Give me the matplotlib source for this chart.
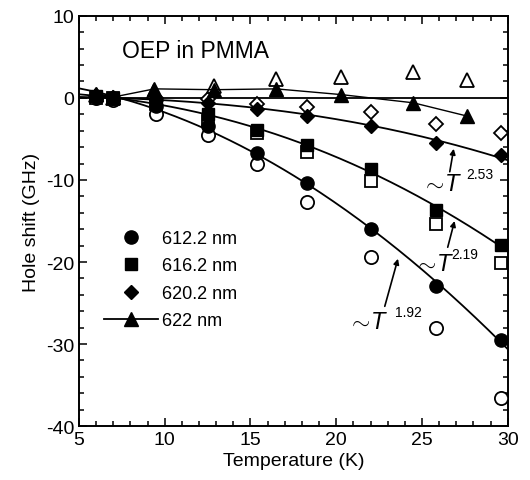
import numpy as np
import matplotlib
matplotlib.use("Agg")
import matplotlib.pyplot as plt
from matplotlib.lines import Line2D
from matplotlib.ticker import MultipleLocator

plt.rcParams['font.family'] = ['Liberation Sans', 'DejaVu Sans']
plt.rcParams['mathtext.fontset'] = 'custom'
plt.rcParams['mathtext.it'] = 'Liberation Sans:italic'
plt.rcParams['mathtext.rm'] = 'Liberation Sans'
plt.rcParams['axes.unicode_minus'] = False

# temperatures (K)
T_main = [6.0, 7.0, 9.5, 12.5, 15.4, 18.3, 22.0, 25.8, 29.6]
T_tri = [6.0, 7.0, 9.4, 12.9, 16.5, 20.3, 24.5, 27.6]

# hole shift (GHz), filled and open symbols
circ_fill = [0.1, 0.0, -1.0, -3.4, -6.7, -10.4, -16.0, -22.9, -29.5]
circ_open = [0.0, -0.2, -2.0, -4.5, -8.0, -12.7, -19.4, -28.0, -36.6]
sq_fill = [0.2, 0.0, -0.6, -2.0, -3.9, -5.8, -8.7, -13.7, -17.9]
sq_open = [0.0, 0.0, -0.8, -2.8, -4.3, -6.6, -10.1, -15.4, -20.1]
dia_fill = [0.3, 0.0, -0.2, -0.6, -1.3, -2.2, -3.4, -5.5, -7.0]
dia_open = [0.2, 0.0, 0.0, -0.1, -0.7, -1.1, -1.7, -3.2, -4.3]
tri_fill = [0.5, 0.1, 1.1, 1.0, 1.1, 0.4, -0.6, -2.2]
tri_open = [0.3, 0.0, 0.8, 1.4, 2.3, 2.6, 3.1, 2.2]

labels = ["612.2 nm", "616.2 nm", "620.2 nm", "622 nm"]
exponents = [1.92, 2.19, 2.53]

fig = plt.figure(figsize=(5.3, 4.81), dpi=100)
ax = fig.add_axes([0.149, 0.112, 0.809, 0.853])

ax.axhline(0, color='k', lw=1.3, zorder=1)

ms = 9.5
# power-law fits  y = c - b*T^n through the filled points
Tf = np.linspace(5, 30, 200)
for ys, n in zip([circ_fill, sq_fill, dia_fill], exponents):
    p = np.polyfit(np.array(T_main) ** n, ys, 1)
    ax.plot(Tf, np.polyval(p, Tf ** n), color='k', lw=1.3, zorder=2)

ax.plot(T_main, circ_open, 'o', ms=ms, mfc='white', mec='k', mew=1.3, zorder=3)
ax.plot(T_main, sq_open, 's', ms=ms - 1, mfc='white', mec='k', mew=1.3, zorder=3)
ax.plot(T_main, dia_open, 'D', ms=ms - 2, mfc='white', mec='k', mew=1.3, zorder=3)
ax.plot(T_tri, tri_open, '^', ms=ms + 1, mfc='white', mec='k', mew=1.3, zorder=3)

ax.plot(T_tri, tri_fill, '-^', color='k', lw=1.0, ms=ms, zorder=4)
ax.plot(T_main, circ_fill, 'o', color='k', ms=ms, zorder=4)
ax.plot(T_main, sq_fill, 's', color='k', ms=ms - 1, zorder=4)
ax.plot(T_main, dia_fill, 'D', color='k', ms=ms - 2, zorder=4)

# annotations
annots = [
    ("2.53", (26.85, -6.2), (26.62, -9.0), (26.2, -10.5), (27.6, -9.3)),
    ("2.19", (26.9, -15.0), (26.5, -18.2), (25.75, -20.2), (26.7, -19.0)),
    ("1.92", (23.6, -19.6), (22.83, -25.4), (21.9, -27.3), (23.4, -26.1)),
]
for sup, head, tail, tpos, spos in annots:
    ax.annotate("", xy=head, xytext=tail,
                arrowprops=dict(arrowstyle='-|>', color='k', lw=1.2,
                                mutation_scale=8, shrinkA=0, shrinkB=0))
    ax.text(*tpos, r"$\sim\!T$", fontsize=17, ha='center', va='center')
    ax.text(*spos, sup, fontsize=10, ha='left', va='center')

ax.text(0.10, 0.915, "OEP in PMMA", transform=ax.transAxes, fontsize=16.5,
        ha='left', va='center')

handles = [
    Line2D([], [], marker='o', ls='none', color='k', ms=ms),
    Line2D([], [], marker='s', ls='none', color='k', ms=ms - 1),
    Line2D([], [], marker='D', ls='none', color='k', ms=ms - 2),
    Line2D([], [], marker='^', ls='-', color='k', lw=1.3, ms=ms),
]
ax.legend(handles, labels, loc='upper left', bbox_to_anchor=(0.058, 0.478),
          frameon=False, fontsize=13, handlelength=3.0, handletextpad=0.2,
          labelspacing=0.58, borderpad=0, borderaxespad=0)

ax.set_xlim(5, 30)
ax.set_ylim(-40, 10)
ax.xaxis.set_major_locator(MultipleLocator(5))
ax.xaxis.set_minor_locator(MultipleLocator(1))
ax.yaxis.set_major_locator(MultipleLocator(10))
ax.yaxis.set_minor_locator(MultipleLocator(2))
ax.tick_params(which='both', direction='in', top=True, right=True,
               labelsize=14, width=1.1)
ax.tick_params(which='major', length=6)
ax.tick_params(which='minor', length=3.5)
for s in ax.spines.values():
    s.set_linewidth(1.4)

ax.set_xlabel("Temperature (K)", fontsize=14, labelpad=3)
ax.set_ylabel("Hole shift (GHz)", fontsize=14, labelpad=4)

fig.savefig("out.png", dpi=100)
